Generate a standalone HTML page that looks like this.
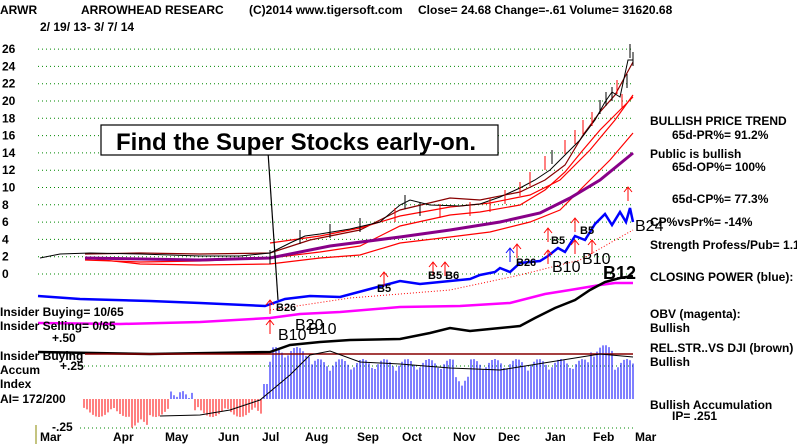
<!DOCTYPE html>
<html><head><meta charset="utf-8"><style>
body{margin:0;background:#fff;width:797px;height:444px;overflow:hidden}
svg{display:block}
text{font-family:"Liberation Sans",sans-serif;font-weight:bold;font-size:12px;fill:#000}
</style></head><body>
<svg id="s" width="797" height="444" viewBox="0 0 797 444">
<rect width="797" height="444" fill="#fff"/>
<text x="0" y="14">ARWR</text>
<text x="81" y="14">ARROWHEAD RESEARC</text>
<text x="249" y="14">(C)2014 www.tigersoft.com</text>
<text x="418" y="14">Close=  24.68  Change=-.61 Volume=  31620.68</text>
<text x="40" y="31">2/ 19/ 13- 3/ 7/ 14</text>
<g id="grid" stroke="#080" stroke-width="1" stroke-dasharray="1,3"></g>
<g id="ylab"></g>
<g id="hist"></g>
<g fill="none">
<polyline stroke="#800" stroke-width="1.2" points="85,254 140,253 200,254 270,253 310,240 360,230 400,210 450,198 480,200 520,192 545,180 565,165 583,135 600,112 615,95 633,62"/>
<polyline stroke="#f00" stroke-width="1.2" points="85,260 140,262 200,261 270,258 320,252 360,246 400,226 450,215 480,212 520,205 545,190 565,172 583,150 600,130 615,115 633,97"/>
<polyline stroke="#f00" stroke-width="1.2" points="85,258 140,264 200,265 270,264 320,258 360,255 400,243 450,237 490,232 530,222 560,210 585,185 610,160 633,133"/>
<polyline stroke="#f00" stroke-width="1.2" points="270,243 320,236 360,228 400,216 450,207 490,203 530,195 560,180 590,150 615,120 633,95"/>
<polyline stroke="#808" stroke-width="3" points="85,258 200,260 270,258 330,246 400,237 450,230 500,222 540,213 570,198 600,180 633,153"/>
<polyline stroke="#000" stroke-width="1" points="40,258 60,254 90,253 140,254 200,256 240,256 270,253 290,243 305,236 320,234 350,229 380,222 400,205 410,200 430,205 460,206 480,204 500,197 520,188 535,180 550,170 565,155 580,140 595,120 605,102 612,92 620,97 628,60 633,60"/>
<polyline stroke="#00f" stroke-width="2.5" points="38,296 80,299 150,301 200,303 265,306 285,299 310,296 340,297 370,289 400,281 420,284 440,282 470,279 480,275 495,272 500,268 510,272 520,263 540,261 548,256 558,248 565,252 575,236 585,240 595,224 605,214 612,225 620,212 626,222 630,208 633,222"/>
<polyline stroke="#f0f" stroke-width="2.5" points="38,323 120,324 200,322 270,318 300,314 340,312 400,307 460,306 510,303 545,294 570,290 600,285 615,283 633,283"/>
<polyline stroke="#000" stroke-width="2.5" points="38,352 150,354 270,352 290,345 320,342 350,340 400,339 430,333 450,328 470,331 490,329 520,326 535,318 555,308 575,300 590,290 605,282 620,278 633,276"/>
<line x1="85" y1="354" x2="633" y2="354" stroke="#800" stroke-width="1.5"/>
<polyline stroke="#f00" stroke-width="1" stroke-dasharray="1,2" points="270,310 350,298 450,290 520,275 580,260 633,230"/>
<polyline stroke="#000" stroke-width="1" points="160,416 200,415 230,410 260,400 290,375 310,355 330,351 360,362 400,364 450,368 500,370 550,362 600,354 633,357"/>
<line x1="268" y1="152" x2="278" y2="300" stroke="#000" stroke-width="1.2"/>
</g>
<rect x="101" y="125" width="397" height="30" fill="#fff" stroke="#000" stroke-width="1.2"/>
<text x="116" y="150" style="font-size:24px">Find the Super Stocks early-on.</text>
<g style="font-weight:normal" id="arrows"></g>
<text x="377" y="292" style="font-size:11px">B5</text>
<text x="428" y="279" style="font-size:11px">B5 B6</text>
<text x="516" y="266" style="font-size:11px">B26</text>
<text x="551" y="244" style="font-size:11px">B5</text>
<text x="580" y="234" style="font-size:11px">B5</text>
<text x="552" y="272" style="font-size:16px;font-weight:normal">B10</text>
<text x="582" y="264" style="font-size:16px;font-weight:normal">B10</text>
<text x="603" y="279" style="font-size:18px">B12</text>
<text x="635" y="231" style="font-size:16px;font-weight:normal">B24</text>
<text x="276" y="311" style="font-size:11px">B26</text>
<text x="295" y="330" style="font-size:16px;font-weight:normal">B20</text>
<text x="278" y="340" style="font-size:16px;font-weight:normal">B10</text>
<text x="308" y="334" style="font-size:16px;font-weight:normal">B10</text>
<text x="0" y="316">Insider Buying= 10/65</text>
<text x="0" y="330">Insider Selling= 0/65</text>
<text x="52" y="342">+.50</text>
<text x="0" y="360">Insider Buying</text>
<text x="0" y="374">Accum</text>
<text x="60" y="370">+.25</text>
<text x="0" y="388">Index</text>
<text x="0" y="403">AI= 172/200</text>
<text x="52" y="431">-.25</text>
<line x1="36" y1="425" x2="36" y2="444" stroke="#880" stroke-width="1"/>
<g id="mon"></g>
<text x="650" y="125">BULLISH PRICE TREND</text>
<text x="672" y="139">65d-PR%= 91.2%</text>
<text x="650" y="158">Public is bullish</text>
<text x="672" y="171">65d-OP%= 100%</text>
<text x="672" y="203">65d-CP%= 77.3%</text>
<text x="650" y="226">CP%vsPr%= -14%</text>
<text x="650" y="249">Strength Profess/Pub= 1.1</text>
<text x="650" y="281">CLOSING POWER (blue):</text>
<text x="650" y="318">OBV (magenta):</text>
<text x="650" y="332">Bullish</text>
<text x="650" y="352">REL.STR..VS DJI (brown)</text>
<text x="650" y="366">Bullish</text>
<text x="650" y="409">Bullish Accumulation</text>
<text x="672" y="420">IP=  .251</text>
</svg>
<script>
var NS="http://www.w3.org/2000/svg";
function el(p,t,a){var e=document.createElementNS(NS,t);for(var k in a)e.setAttribute(k,a[k]);document.getElementById(p).appendChild(e);return e;}
var v=[26,24,22,20,18,16,14,12,10,8,6,4,2,0];
v.forEach(function(n){var y=274-8.65*n;el("grid","line",{x1:38,y1:y,x2:634,y2:y});var t=el("ylab","text",{x:2,y:y+4});t.textContent=n;});
[366,428].forEach(function(y){el("grid","line",{x1:80,y1:y,x2:634,y2:y})});
var m=[["Mar",40],["Apr",113],["May",165],["Jun",218],["Jul",262],["Aug",305],["Sep",357],["Oct",402],["Nov",453],["Dec",498],["Jan",545],["Feb",593],["Mar",635]];
m.forEach(function(a){var t=el("mon","text",{x:a[1],y:441});t.textContent=a[0];});
var base=399;
for(var x=84;x<=633;x+=3){
 var h;
 if(x<262){h=-(8+10*Math.abs(Math.sin(x/9))+ (x>130&&x<150?12:0));
  if(x>170&&x<195)h=8*Math.abs(Math.sin(x/4));}
 else if(x<268)h=15;
 else {h=28+12*Math.abs(Math.sin(x/7))+(x>270&&x<310?12:0)+(x>590&&x<615?14:0);
  if(x>455&&x<470)h-=15;}
 var neg=h<0;
 el("hist","line",{x1:x,y1:base,x2:x,y2:base-h,stroke:neg?"#f00":"#00f","stroke-width":1});
}
var ar=[[270,300],[270,320],[384,272],[433,262],[445,262],[517,244],[548,228],[548,250],[575,218],[575,240],[592,240],[628,187]];
ar.forEach(function(a){var x=a[0],y=a[1];el("arrows","path",{d:"M"+x+","+(y+14)+"V"+y+"M"+(x-4)+","+(y+5)+"L"+x+","+y+"L"+(x+4)+","+(y+5),stroke:"#f00",fill:"none"});});
el("arrows","path",{d:"M510,262V248M506,253L510,248L514,253",stroke:"#00f",fill:"none"});
var pts=[[270,258],[300,238],[330,232],[360,226],[395,216],[405,203],[420,210],[440,212],[470,210],[490,206],[505,198],[520,190],[530,180],[545,164],[552,158],[565,148],[575,138],[583,128],[592,120],[600,108],[606,100],[612,95],[617,88],[622,102],[627,82],[630,52],[633,60]];
pts.forEach(function(p){el("arrows","line",{x1:p[0],y1:p[1]-8,x2:p[0],y2:p[1]+6,stroke:(p[0]%3?"#f00":"#000"),"stroke-width":1});});
</script>
</body></html>
